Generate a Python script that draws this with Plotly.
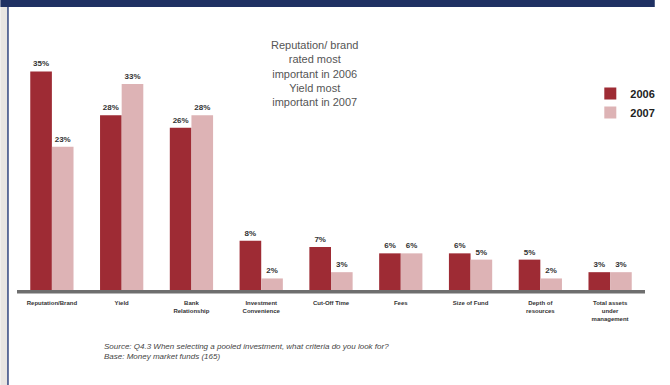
import plotly.graph_objects as go

categories = ["Reputation/Brand", "Yield", "Bank<br>Relationship", "Investment<br>Convenience",
              "Cut-Off Time", "Fees", "Size of Fund", "Depth of<br>resources",
              "Total assets<br>under<br>management"]
values_2006 = [35, 28, 26, 8, 7, 6, 6, 5, 3]
values_2007 = [23, 33, 28, 2, 3, 6, 5, 2, 3]
series_names = ["2006", "2007"]

W, H = 670, 385
ML, MR, MT, MB = 17, 10, 40, 94
PW, PH = W - ML - MR, H - MT - MB

def px(x):
    return (x - ML) / PW

def py(y):
    return (H - MB - y) / PH

c06, c07 = "#9E2B34", "#DDB3B5"
fig = go.Figure()
for name, vals, col in [(series_names[0], values_2006, c06), (series_names[1], values_2007, c07)]:
    fig.add_trace(go.Bar(
        x=categories, y=vals, name="<b>" + name + "</b>", marker=dict(color=col, line=dict(width=0)),
        text=[f"<b>{v}%</b>" for v in vals], textposition="outside",
        textfont=dict(size=8, color="#333", family="Liberation Sans"),
        cliponaxis=False,
    ))

fig.update_layout(
    width=W, height=H, margin=dict(l=ML, r=MR, t=MT, b=MB),
    paper_bgcolor="white", plot_bgcolor="white",
    barmode="group", bargap=0.38, bargroupgap=0,
    font=dict(family="Liberation Sans", color="#333"),
    showlegend=True,
    legend=dict(x=px(604), y=py(79), xanchor="left", yanchor="top",
                font=dict(size=11, color="#222"), bgcolor="rgba(0,0,0,0)",
                tracegroupgap=2, itemwidth=30),
    xaxis=dict(tickvals=categories, ticktext=["<b>" + c + "</b>" for c in categories],
               tickfont=dict(size=6, color="#333"), showline=False, ticks="",
               showgrid=False, fixedrange=True, ticklabelstandoff=7),
    yaxis=dict(range=[0, 40], visible=False, showgrid=False),
)

# baseline
fig.add_shape(type="rect", xref="paper", yref="paper", x0=0, x1=1, y0=py(293.5), y1=py(290),
              fillcolor="#6E6E6E", line=dict(width=0), layer="above")

# frame decoration
fig.add_shape(type="rect", xref="paper", yref="paper", x0=px(0), x1=px(W), y0=py(7), y1=py(0),
              fillcolor="#1F3163", line=dict(width=0), layer="above")
fig.add_shape(type="rect", xref="paper", yref="paper", x0=px(0), x1=px(7), y0=py(H), y1=py(7),
              fillcolor="#E8E5E2", line=dict(width=0), layer="above")
fig.add_shape(type="rect", xref="paper", yref="paper", x0=px(7), x1=px(8.5), y0=py(H), y1=py(7),
              fillcolor="#2A3F7A", line=dict(width=0), layer="above")

fig.add_annotation(xref="paper", yref="paper", x=px(322), y=py(37), xanchor="center", yanchor="top",
                   showarrow=False, align="center",
                   text="Reputation/ brand<br>rated most<br>important in 2006<br>Yield most<br>important in 2007",
                   font=dict(size=11, color="#555"))
fig.add_annotation(xref="paper", yref="paper", x=px(104), y=py(340), xanchor="left", yanchor="top",
                   showarrow=False, align="left",
                   text="<i>Source: Q4.3 When selecting a pooled investment, what criteria do you look for?<br>Base: Money market funds (165)</i>",
                   font=dict(size=8, color="#444"))

fig.write_html("out.html")
